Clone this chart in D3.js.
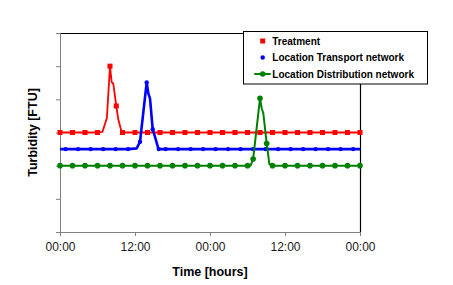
<!DOCTYPE html>
<html>
<head>
<meta charset="utf-8">
<script src="https://cdn.jsdelivr.net/npm/d3@7"></script>
<style>
  body { margin: 0; background: #fff; }
  svg { display: block; font-family: "Liberation Sans", Arial, sans-serif; }
</style>
</head>
<body>
<div id="chart"></div>
<script>
// hours since start, turbidity (arbitrary units, axis has no labels)
var treatHours  = [0, 2, 4, 6, 6.8, 7.5, 8, 8.27, 8.53, 8.75, 9, 9.33, 9.85, 10, 12, 14, 16, 18, 20, 22, 24, 26, 28, 30, 32, 34, 36, 38, 40, 42, 44, 46, 48];
var treatValues = [3, 3, 3, 3, 3.02, 3.44, 5.0, 4.52, 4.47, 4.16, 3.8, 3.39, 3.02, 3, 3, 3, 3, 3, 3, 3, 3, 3, 3, 3, 3, 3, 3, 3, 3, 3, 3, 3, 3];
var treatMarks  = [0, 2, 4, 6, 8, 9, 10, 12, 14, 16, 18, 20, 22, 24, 26, 28, 30, 32, 34, 36, 38, 40, 42, 44, 46, 48];

var transHours  = [0, 0.9, 2.9, 4.9, 6.9, 8.9, 10.9, 12.27, 12.8, 13.87, 14.13, 14.4, 14.83, 15.2, 15.73, 15.8, 16.9, 18.9, 20.9, 22.9, 24.9, 26.9, 28.9, 30.9, 32.9, 34.9, 36.9, 38.9, 40.9, 42.9, 44.9, 46.9, 48];
var transValues = [2.5, 2.5, 2.5, 2.5, 2.5, 2.5, 2.5, 2.52, 2.72, 4.51, 4.18, 4.03, 3.1, 2.87, 2.52, 2.5, 2.5, 2.5, 2.5, 2.5, 2.5, 2.5, 2.5, 2.5, 2.5, 2.5, 2.5, 2.5, 2.5, 2.5, 2.5, 2.5, 2.5];
var transMarks  = [0.9, 2.9, 4.9, 6.9, 8.9, 10.9, 12.8, 13.87, 14.83, 15.8, 16.9, 18.9, 20.9, 22.9, 24.9, 26.9, 28.9, 30.9, 32.9, 34.9, 36.9, 38.9, 40.9, 42.9, 44.9, 46.9];

var distHours   = [0, 2, 4, 6, 8, 10, 12, 14, 16, 18, 20, 22, 24, 26, 28, 30, 30.5, 30.9, 32, 32.27, 32.53, 33.07, 33.5, 34, 36, 38, 40, 42, 44, 46, 48];
var distValues  = [2, 2, 2, 2, 2, 2, 2, 2, 2, 2, 2, 2, 2, 2, 2, 2, 2.0, 2.2, 4.03, 3.73, 3.58, 2.67, 2.05, 2, 2, 2, 2, 2, 2, 2, 2];
var distMarks   = [0, 2, 4, 6, 8, 10, 12, 14, 16, 18, 20, 22, 24, 26, 28, 30, 30.9, 32, 33.07, 34, 36, 38, 40, 42, 44, 46, 48];

var xTicks = [0, 12, 24, 36, 48];
var xTickLabels = ["00:00", "12:00", "00:00", "12:00", "00:00"];
var yTicks = [0, 1, 2, 3, 4, 5, 6];
var seriesNames = ["Treatment", "Location Transport network", "Location Distribution network"];

var W = 453, H = 285;
var margin = {top: 33, right: 93, bottom: 53, left: 60};
var width = W - margin.left - margin.right,
    height = H - margin.top - margin.bottom;

var svg = d3.select("#chart").append("svg")
    .attr("width", W)
    .attr("height", H);

svg.append("rect").attr("width", W).attr("height", H).attr("fill", "#fff");

var g = svg.append("g")
    .attr("transform", "translate(" + margin.left + "," + margin.top + ")");

var x = d3.scaleLinear().domain([0, 48]).range([0, width]);
var y = d3.scaleLinear().domain([0, 6]).range([height, 0]);

// plot frame (top and right in black)
g.append("path")
    .attr("d", "M0,0.5H" + (width + 0.5) + "V" + height)
    .attr("fill", "none")
    .attr("stroke", "#000")
    .attr("stroke-width", 1.2);

// axes
var xAxis = g.append("g")
    .attr("transform", "translate(0," + height + ")")
    .call(d3.axisBottom(x).tickValues(xTicks).tickSize(4).tickPadding(6)
        .tickFormat(function (d, i) { return xTickLabels[i]; }));
xAxis.select(".domain").attr("stroke", "#808080");
xAxis.selectAll(".tick line").attr("stroke", "#808080");
xAxis.selectAll("text").attr("font-size", 12).attr("fill", "#1a1a1a")
    .attr("font-family", "Liberation Sans, Arial, sans-serif");

var yAxis = g.append("g")
    .call(d3.axisLeft(y).tickValues(yTicks).tickSize(4).tickFormat(""));
yAxis.select(".domain").attr("stroke", "#808080");
yAxis.selectAll(".tick line").attr("stroke", "#808080");

// series
var series = [
  {hours: treatHours, values: treatValues, marks: treatMarks, color: "#ff0000", lw: 1.8, shape: "square"},
  {hours: transHours, values: transValues, marks: transMarks, color: "#0000ff", lw: 2.6, shape: "dot"},
  {hours: distHours, values: distValues, marks: distMarks, color: "#008000", lw: 2, shape: "circle"}
];

var line = d3.line()
    .x(function (d) { return x(d[0]); })
    .y(function (d) { return y(d[1]); });

series.forEach(function (s) {
  var pts = s.hours.map(function (h, i) { return [h, s.values[i]]; });
  var markPts = s.marks.map(function (h) { return [h, s.values[s.hours.indexOf(h)]]; });

  g.append("path")
      .datum(pts)
      .attr("d", line)
      .attr("fill", "none")
      .attr("stroke", s.color)
      .attr("stroke-width", s.lw)
      .attr("stroke-linejoin", "round");

  if (s.shape === "square") {
    g.selectAll(null).data(markPts).enter().append("rect")
        .attr("x", function (d) { return x(d[0]) - 2.5; })
        .attr("y", function (d) { return y(d[1]) - 2.5; })
        .attr("width", 5).attr("height", 5)
        .attr("fill", s.color);
  } else {
    g.selectAll(null).data(markPts).enter().append("circle")
        .attr("cx", function (d) { return x(d[0]); })
        .attr("cy", function (d) { return y(d[1]); })
        .attr("r", s.shape === "dot" ? 2.2 : 2.8)
        .attr("fill", s.color);
  }
});

// axis titles
svg.append("text")
    .attr("x", margin.left + width / 2)
    .attr("y", 276)
    .attr("text-anchor", "middle")
    .attr("font-size", 12.5)
    .attr("font-weight", "bold")
    .text("Time [hours]");

svg.append("text")
    .attr("transform", "translate(37," + 132.5 + ") rotate(-90)")
    .attr("text-anchor", "middle")
    .attr("font-size", 12.5)
    .attr("font-weight", "bold")
    .text("Turbidity [FTU]");

// legend
var lg = svg.append("g").attr("transform", "translate(243.5,31.5)");
lg.append("rect")
    .attr("width", 184).attr("height", 52.5)
    .attr("fill", "#fff").attr("stroke", "#000").attr("stroke-width", 1);

seriesNames.forEach(function (name, i) {
  var s = series[i];
  var cy = 9.5 + i * 16.5;
  if (s.shape === "square") {
    lg.append("rect").attr("x", 16.7).attr("y", cy - 2.5).attr("width", 5).attr("height", 5).attr("fill", s.color);
  } else if (s.shape === "dot") {
    lg.append("circle").attr("cx", 19.2).attr("cy", cy).attr("r", 2.2).attr("fill", s.color);
  } else {
    lg.append("line").attr("x1", 10.8).attr("x2", 27.2).attr("y1", cy).attr("y2", cy)
        .attr("stroke", s.color).attr("stroke-width", 2);
    lg.append("circle").attr("cx", 19.2).attr("cy", cy).attr("r", 2.8).attr("fill", s.color);
  }
  lg.append("text")
      .attr("x", 28.8)
      .attr("y", cy + 3.7)
      .attr("font-size", 10)
      .attr("font-weight", "bold")
      .text(name);
});
</script>
</body>
</html>
